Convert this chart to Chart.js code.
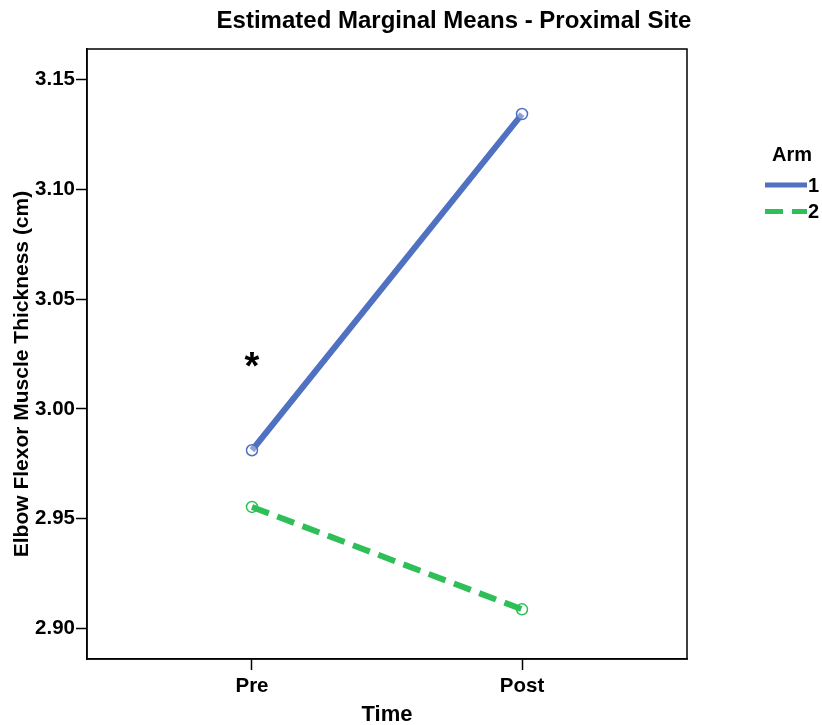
<!DOCTYPE html>
<html>
<head>
<meta charset="utf-8">
<script src="https://cdn.jsdelivr.net/npm/chart.js@4/dist/chart.umd.min.js"></script>
<style>
  html, body { margin: 0; padding: 0; background: #fff; }
  #wrap { width: 822px; height: 725px; }
</style>
</head>
<body>
<div id="wrap"><canvas id="chart" width="822" height="725"></canvas></div>
<script>
// categories and values
const timeLabels = ['Pre', 'Post'];
const arm1Values = [2.9812, 3.1342];
const arm2Values = [2.9554, 2.9088];
const yTickValues = [2.90, 2.95, 3.00, 3.05, 3.10, 3.15];
const armNames = ['1', '2'];
// significance marker above arm 1 at Pre
const starAt = { x: 0, y: 3.0185 };

const blue = '#5070C2';
const green = '#2EBF58';
const fontFam = '"Liberation Sans", Arial, sans-serif';

const toPoints = vals => vals.map((v, i) => ({ x: i, y: v }));

const extras = {
    id: 'extras',
    afterDraw(chart) {
        const { ctx, chartArea: a, scales } = chart;
        ctx.save();
        // plot frame
        ctx.strokeStyle = '#000';
        ctx.lineWidth = 1.5;
        ctx.strokeRect(a.left, a.top, a.right - a.left, a.bottom - a.top);

        // title
        ctx.fillStyle = '#000';
        ctx.font = 'bold 24px ' + fontFam;
        ctx.textAlign = 'center';
        ctx.textBaseline = 'middle';
        ctx.fillText('Estimated Marginal Means - Proximal Site', 454, 21);

        // y axis title (sits a bit below the plot middle, as in the original)
        ctx.save();
        ctx.translate(22, 374);
        ctx.rotate(-Math.PI / 2);
        ctx.font = 'bold 21px ' + fontFam;
        ctx.fillText('Elbow Flexor Muscle Thickness (cm)', 0, 0);
        ctx.restore();

        // x axis title
        ctx.font = 'bold 22px ' + fontFam;
        ctx.fillText('Time', (a.left + a.right) / 2, 715);

        // asterisk
        ctx.font = 'bold 38px ' + fontFam;
        ctx.fillText('*', scales.x.getPixelForValue(starAt.x), scales.y.getPixelForValue(starAt.y));

        // legend
        ctx.font = 'bold 20px ' + fontFam;
        ctx.fillText('Arm', 792, 155);
        ctx.textAlign = 'left';
        chart.data.datasets.forEach((ds, i) => {
            const y = 185 + i * 26.5;
            ctx.strokeStyle = ds.borderColor;
            ctx.lineWidth = 5;
            ctx.setLineDash(ds.borderDash || []);
            ctx.beginPath();
            ctx.moveTo(765, y);
            ctx.lineTo(807, y);
            ctx.stroke();
            ctx.setLineDash([]);
            ctx.fillStyle = '#000';
            ctx.fillText(armNames[i], 808, y + 1);
        });
        ctx.restore();
    }
};

new Chart(document.getElementById('chart'), {
    type: 'line',
    data: {
        datasets: [{
            label: armNames[0],
            data: toPoints(arm1Values),
            borderColor: blue,
            borderWidth: 6,
            pointRadius: 5.5,
            pointBorderWidth: 1.5,
            pointBorderColor: blue,
            pointBackgroundColor: 'rgba(255,255,255,0.35)'
        }, {
            label: armNames[1],
            data: toPoints(arm2Values),
            borderColor: green,
            borderWidth: 6,
            borderDash: [18, 9],
            pointRadius: 5.5,
            pointBorderWidth: 1.5,
            pointBorderColor: green,
            pointBackgroundColor: 'rgba(255,255,255,0)'
        }]
    },
    options: {
        responsive: false,
        animation: false,
        layout: { padding: { left: 0, top: 49, right: 135, bottom: 0 } },
        plugins: {
            legend: { display: false },
            tooltip: { enabled: false }
        },
        scales: {
            x: {
                type: 'linear',
                min: -0.611,
                max: 1.611,
                afterBuildTicks: s => { s.ticks = timeLabels.map((_, i) => ({ value: i })); },
                afterFit: s => { s.height = 66; },
                grid: { drawOnChartArea: false, tickLength: 11, tickColor: '#000', tickWidth: 1.5 },
                border: { color: '#000', width: 1.5 },
                ticks: {
                    color: '#000',
                    padding: 4,
                    font: { family: fontFam, size: 20.5, weight: 'bold' },
                    callback: v => timeLabels[v]
                }
            },
            y: {
                min: 2.8862,
                max: 3.1638,
                afterBuildTicks: s => { s.ticks = yTickValues.map(v => ({ value: v })); },
                afterFit: s => { s.width = 87; },
                grid: { drawOnChartArea: false, tickLength: 11, tickColor: '#000', tickWidth: 1.5 },
                border: { color: '#000', width: 1.5 },
                ticks: {
                    color: '#000',
                    padding: 1,
                    font: { family: fontFam, size: 20.5, weight: 'bold' },
                    callback: v => v.toFixed(2)
                }
            }
        }
    },
    plugins: [extras]
});
</script>
</body>
</html>
